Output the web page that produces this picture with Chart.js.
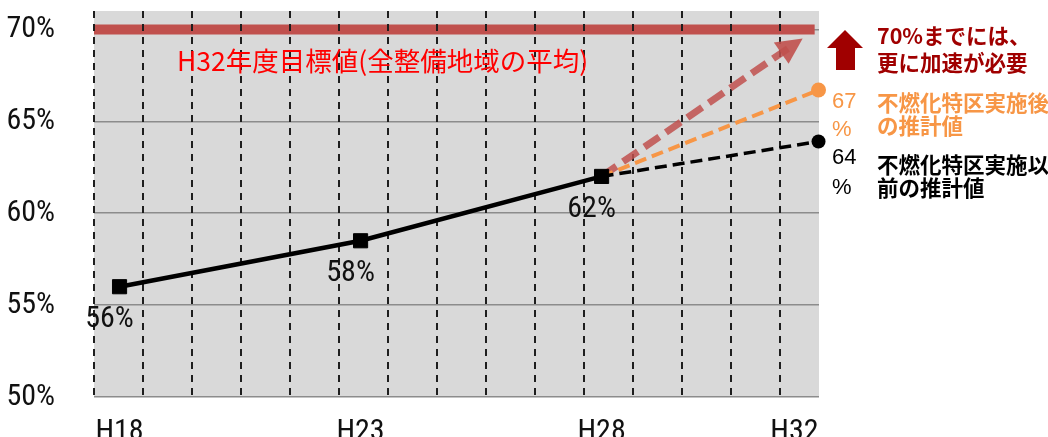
<!DOCTYPE html>
<html><head><meta charset="utf-8">
<script src="https://cdn.jsdelivr.net/npm/chart.js@4"></script>
<style>
html,body{margin:0;padding:0;background:#fff;overflow:hidden;width:1048px;height:437px}
#wrap{width:1048px;height:470px}
</style></head>
<body><div id="wrap"><canvas id="c" width="1048" height="470"></canvas></div>
<script>
// ---- data ----
const periodLabels = ['H18', 'H23', 'H28', 'H32'];
const periodYears = [18, 23, 28, 32];
const actualYears = [18, 23, 28];
const actualValues = [56, 58.5, 62];
const actualLabels = ['56%', '58%', '62%'];
const projYears = [28, 32.5];
const projBeforeValues = [62, 63.9];
const projAfterValues = [62, 66.7];
const accelYears = [28, 32.0];
const accelValues = [62, 69.2];
const targetYears = [17.47, 32.42];
const targetValues = [70, 70];
const yTickValues = [50, 55, 60, 65, 70];
const yTickLabels = ['50%', '55%', '60%', '65%', '70%'];
const gridSteps = [0, 1, 2, 3, 4, 5, 6, 7, 8, 9, 10, 11, 12, 13, 14];
const xMin = 17.47, xMax = 32.51;

const NARROW = "'Roboto Condensed','DejaVu Sans Condensed',sans-serif";
const JP = "'Noto Sans CJK JP','Noto Sans',sans-serif";
const SANS = "'Liberation Sans','Noto Sans',sans-serif";
const TXT = '#111111';
const toPts = (xs, ys) => xs.map((x, i) => ({x: x, y: ys[i]}));

const decor = {
  id: 'decor',
  beforeDraw(chart) {
    const {ctx, chartArea: a} = chart;
    ctx.save();
    ctx.fillStyle = '#d9d9d9';
    ctx.fillRect(a.left, a.top, a.right - a.left, a.bottom - a.top);
    ctx.restore();
  },
  afterDatasetDraw(chart, args) {
    if (args.index === 4) chart.scales.x2.drawGrid(chart.chartArea);
  },
  afterDatasetsDraw(chart) {
    const ctx = chart.ctx;
    // arrow head of the acceleration line
    const am = chart.getDatasetMeta(3).data;
    const p0 = am[0], p1 = am[1];
    const ang = Math.atan2(p1.y - p0.y, p1.x - p0.x);
    ctx.save();
    ctx.translate(p1.x, p1.y); ctx.rotate(ang);
    ctx.fillStyle = 'rgba(192,80,77,0.9)';
    ctx.beginPath(); ctx.moveTo(10, 0); ctx.lineTo(-16, -13); ctx.lineTo(-16, 13); ctx.closePath(); ctx.fill();
    ctx.restore();

    // point labels
    ctx.save();
    ctx.font = '30px ' + NARROW;
    ctx.fillStyle = TXT;
    ctx.textAlign = 'center'; ctx.textBaseline = 'middle';
    chart.getDatasetMeta(0).data.forEach((p, i) => ctx.fillText(actualLabels[i], p.x - 10, p.y + 33));
    ctx.restore();

    // target text
    ctx.save();
    ctx.font = '26.5px ' + JP;
    ctx.fillStyle = '#ff0000';
    ctx.textAlign = 'left'; ctx.textBaseline = 'middle';
    ctx.fillText('H32年度目標値(全整備地域の平均)', 177, 61);
    ctx.restore();

    // block arrow
    ctx.save();
    ctx.fillStyle = '#a00000';
    ctx.beginPath();
    ctx.moveTo(845, 30); ctx.lineTo(863, 48); ctx.lineTo(855, 48); ctx.lineTo(855, 70);
    ctx.lineTo(836, 70); ctx.lineTo(836, 48); ctx.lineTo(827, 48); ctx.closePath(); ctx.fill();
    ctx.restore();

    // right annotations
    ctx.save();
    ctx.textAlign = 'left'; ctx.textBaseline = 'middle';
    ctx.font = '22px ' + SANS;
    ctx.fillStyle = '#f79646';
    ctx.fillText('67', 832, 102);
    ctx.fillText('%', 832, 130);
    ctx.fillStyle = '#000';
    ctx.fillText('64', 832, 158);
    ctx.fillText('%', 832, 188);
    ctx.font = 'bold 21.5px ' + JP;
    ctx.fillStyle = '#a00000';
    ctx.fillText('70%までには、', 877, 36);
    ctx.fillText('更に加速が必要', 877, 63);
    ctx.fillStyle = '#f79646';
    ctx.fillText('不燃化特区実施後', 877, 103);
    ctx.fillText('の推計値', 877, 126);
    ctx.fillStyle = '#000';
    ctx.fillText('不燃化特区実施以', 877, 165);
    ctx.fillText('前の推計値', 877, 188);
    ctx.restore();
  }
};

new Chart(document.getElementById('c').getContext('2d'), {
  type: 'line',
  data: {
    datasets: [
      {label: '実績', data: toPts(actualYears, actualValues), borderColor: '#000', borderWidth: 4.5,
       pointStyle: 'rect', pointRadius: 10, pointBackgroundColor: '#000', pointBorderColor: '#000', pointBorderWidth: 1, tension: 0},
      {label: '不燃化特区実施以前の推計値', data: toPts(projYears, projBeforeValues), borderColor: '#000', borderWidth: 3.5,
       borderDash: [12, 6], pointRadius: [0, 7], pointBackgroundColor: '#000', pointBorderWidth: 0, clip: false},
      {label: '不燃化特区実施後の推計値', data: toPts(projYears, projAfterValues), borderColor: '#f79646', borderWidth: 4,
       borderDash: [12, 6], pointRadius: [0, 7.5], pointBackgroundColor: '#f79646', pointBorderWidth: 0, clip: false},
      {label: '加速', data: toPts(accelYears, accelValues), borderColor: 'rgba(192,80,77,0.85)', borderWidth: 7,
       borderDash: [18, 8], pointRadius: 0, clip: false},
      {label: 'H32年度目標値', data: toPts(targetYears, targetValues), borderColor: '#c0504d', borderWidth: 10,
       pointRadius: 0, clip: false}
    ]
  },
  options: {
    responsive: false, animation: false, devicePixelRatio: 1,
    layout: {padding: {left: 0, top: 10, right: 229, bottom: 0}},
    plugins: {legend: {display: false}, tooltip: {enabled: false}},
    scales: {
      x: {type: 'linear', position: 'bottom', min: xMin, max: xMax,
          afterBuildTicks: s => { s.ticks = periodYears.map(v => ({value: v})); },
          afterFit: s => { s.height = 73; s.paddingLeft = 0; s.paddingRight = 0; },
          grid: {display: false}, border: {display: false},
          ticks: {autoSkip: false, maxRotation: 0, padding: 9, color: TXT, font: {family: NARROW, size: 30},
                  callback: v => periodLabels[periodYears.indexOf(v)]}},
      x2: {type: 'linear', position: 'bottom', min: 0, max: 14.8,
           afterBuildTicks: s => { s.ticks = gridSteps.map(v => ({value: v})); },
           afterFit: s => { s.height = 0; s.paddingLeft = 0; s.paddingRight = 0; },
           ticks: {display: false},
           grid: {color: '#1e1e1e', lineWidth: 2, drawTicks: false},
           border: {display: false, dash: [7, 6]}},
      y: {type: 'linear', min: 50, max: 71,
          afterBuildTicks: s => { s.ticks = yTickValues.map(v => ({value: v})); },
          afterFit: s => { s.width = 94; s.paddingTop = 0; s.paddingBottom = 0; },
          grid: {color: '#8c8c8c', lineWidth: 1.5, drawTicks: false}, border: {display: false},
          ticks: {padding: 39, color: TXT, font: {family: NARROW, size: 30},
                  callback: v => yTickLabels[yTickValues.indexOf(v)]}}
    }
  },
  plugins: [decor]
});
</script>
</body></html>
